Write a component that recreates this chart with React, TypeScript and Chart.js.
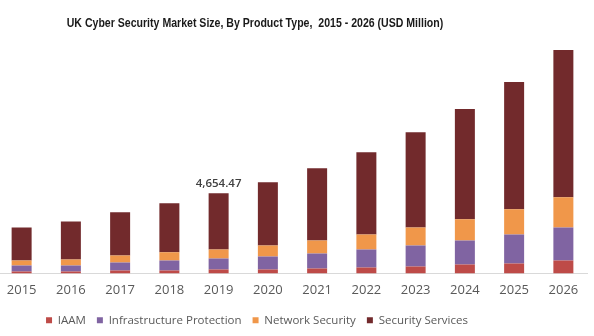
import React, { useEffect, useRef } from "react";
import { Chart, registerables } from "chart.js";

Chart.register(...registerables);

const years = ["2015", "2016", "2017", "2018", "2019", "2020", "2021", "2022", "2023", "2024", "2025", "2026"];
const iaam = [116, 116, 175, 175, 233, 233, 291, 349, 407, 524, 582, 757];
const infrastructure = [349, 349, 466, 582, 640, 757, 873, 1048, 1222, 1397, 1688, 1921];
const network = [291, 349, 407, 483, 524, 640, 757, 873, 1048, 1222, 1455, 1746];
const services = [1920, 2212, 2503, 2834, 3257.47, 3667, 4190, 4772, 5529, 6402, 7391, 8555];
const seriesNames = ["IAAM", "Infrastructure Protection", "Network Security", "Security Services"];
const seriesColors = ["#BE4B48", "#8064A2", "#F0974A", "#722A2C"];
const titleText = "UK Cyber Security Market Size, By Product Type,  2015 - 2026 (USD Million)";
const annotatedIndex = 4;
const annotationText = "4,654.47";

const totalLabelPlugin = {
  id: "totalLabel",
  afterDatasetsDraw(chart: any) {
    const meta = chart.getDatasetMeta(chart.data.datasets.length - 1);
    const el = meta.data[annotatedIndex];
    if (!el) return;
    const ctx = chart.ctx;
    ctx.save();
    ctx.font = "600 11.5px 'Open Sans'";
    ctx.fillStyle = "#404040";
    ctx.textAlign = "center";
    ctx.textBaseline = "middle";
    ctx.fillText(annotationText, el.x, el.y - 10);
    ctx.restore();
  },
};

const condensedTitlePlugin = {
  id: "condensedTitle",
  afterDraw(chart: any) {
    const ctx = chart.ctx;
    ctx.save();
    ctx.translate(329, 24);
    ctx.scale(0.88, 1);
    ctx.font = "bold 12px 'Liberation Sans'";
    ctx.fillStyle = "#1a1a1a";
    ctx.textAlign = "center";
    ctx.textBaseline = "middle";
    ctx.fillText(titleText, 0, 0);
    ctx.restore();
  },
};

export default function App() {
  const ref = useRef<HTMLCanvasElement>(null);
  useEffect(() => {
    if (!ref.current) return;
    const data = [iaam, infrastructure, network, services];
    const chart = new Chart(ref.current, {
      type: "bar",
      data: {
        labels: years,
        datasets: data.map((d, i) => ({
          label: seriesNames[i],
          data: d,
          backgroundColor: seriesColors[i],
          borderWidth: 0,
          categoryPercentage: 1,
          barPercentage: 0.406,
        })),
      },
      options: {
        animation: false,
        responsive: false,
        maintainAspectRatio: false,
        layout: { padding: { left: 0, right: 0, top: 41, bottom: 0 } },
        plugins: {
          title: { display: false },
          legend: {
            position: "bottom",
            labels: {
              boxWidth: 6,
              boxHeight: 6,
              padding: 11,
              color: "#595959",
              font: { family: "'Open Sans'", size: 11.5 },
            },
          },
          tooltip: { enabled: false },
        },
        scales: {
          x: {
            stacked: true,
            grid: { display: false, drawTicks: false, tickLength: 0 },
            border: { display: true, color: "#d9d9d9", width: 1 },
            ticks: { color: "#595959", font: { family: "'Open Sans'", size: 13 }, padding: 9 },
            afterFit: (s: any) => {
              s.height = 30;
            },
          },
          y: {
            stacked: true,
            display: true,
            min: 0,
            max: 13500,
            grid: { display: false, drawTicks: false },
            border: { display: false },
            ticks: { display: false },
            afterFit: (s: any) => {
              s.width = 71;
            },
          },
        },
      },
      plugins: [totalLabelPlugin, condensedTitlePlugin],
    });
    return () => chart.destroy();
  }, []);
  return (
    <div style={{ position: "fixed", left: -74, top: 0, width: 662, height: 336 }}>
      <canvas ref={ref} width={662} height={336} style={{ display: "block" }} />
    </div>
  );
}
